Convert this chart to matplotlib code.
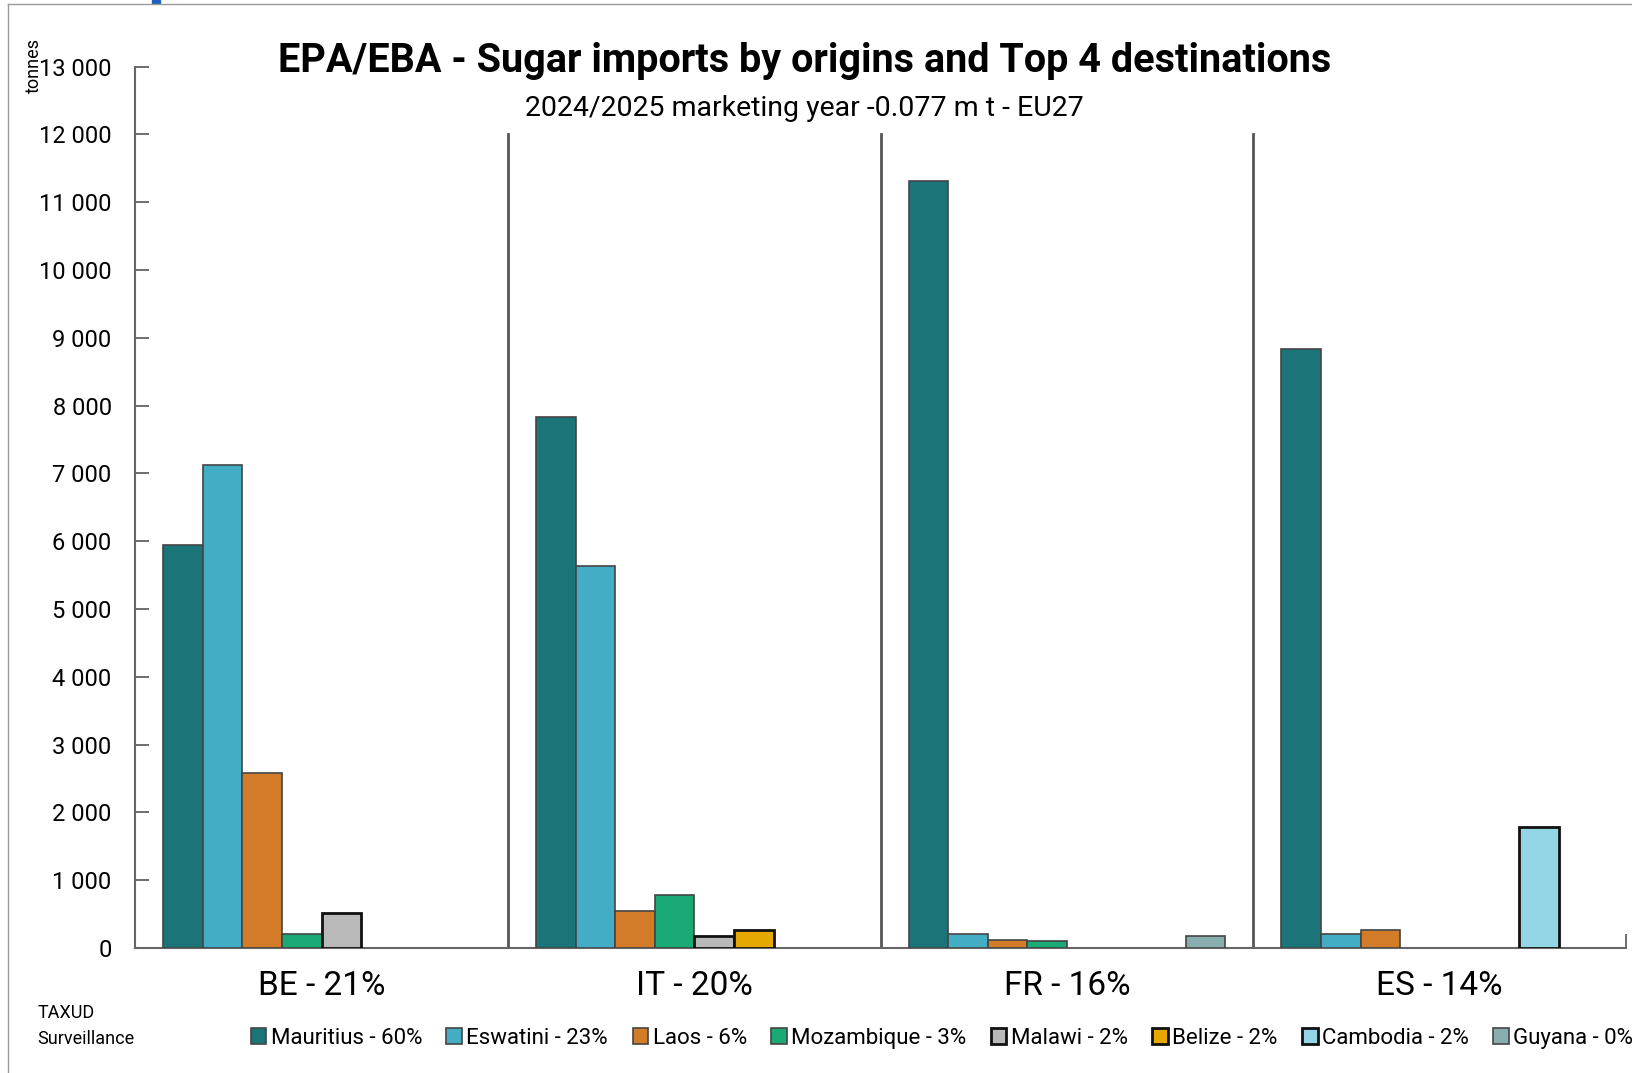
import matplotlib
matplotlib.use("Agg")
import matplotlib.pyplot as plt
import numpy as np
from matplotlib.patches import Rectangle
from matplotlib.lines import Line2D

# data
destinations = ["BE - 21%", "IT - 20%", "FR - 16%", "ES - 14%"]
origins = ["Mauritius - 60%", "Eswatini - 23%", "Laos - 6%", "Mozambique - 3%",
           "Malawi - 2%", "Belize - 2%", "Cambodia - 2%", "Guyana - 0%"]
mauritius = [5940, 7830, 11310, 8840]
eswatini = [7120, 5630, 200, 210]
laos = [2580, 550, 120, 260]
mozambique = [210, 780, 100, 0]
malawi = [520, 180, 0, 0]
belize = [0, 260, 0, 0]
cambodia = [0, 0, 0, 1780]
guyana = [0, 0, 180, 0]
series = [mauritius, eswatini, laos, mozambique, malawi, belize, cambodia, guyana]

colors = ["#1b7478", "#42adc5", "#d27b28", "#1aaa76", "#b9b9b9", "#e5a800", "#93d4e5", "#88aeb0"]
edges = ["#444444", "#444444", "#444444", "#444444", "#111111", "#111111", "#111111", "#444444"]
edge_w = [1.2, 1.2, 1.2, 1.2, 2.0, 2.0, 2.0, 1.2]

plt.rcParams['font.family'] = ["Roboto", "DejaVu Sans"]

fig = plt.figure(figsize=(16.32, 10.73), dpi=100)
ax = fig.add_axes([0.0829, 0.1165, 0.9135, 0.8215])

x = np.arange(len(destinations))
w = 0.85 / len(series)
for k, vals in enumerate(series):
    pos = x - 0.425 + (k + 0.5) * w
    v = np.array(vals, dtype=float)
    m = v > 0
    ax.bar(pos[m], v[m], width=w, color=colors[k], edgecolor=edges[k],
           linewidth=edge_w[k], label=origins[k], zorder=3)

# separators between destinations
for b in [0.5, 1.5, 2.5]:
    ax.plot([b, b], [0, 12000], color="#555555", lw=2, zorder=2)

ax.set_xlim(-0.5, 3.5)
ax.set_ylim(0, 13000)
ax.set_yticks(np.arange(0, 13001, 1000))
ax.set_yticklabels([f"{v:,}".replace(",", " ") for v in range(0, 13001, 1000)], fontsize=17)
ax.tick_params(axis="y", direction="in", length=10, width=1.2, color="#555555", pad=17)
ax.set_xticks(x)
ax.set_xticklabels(destinations, fontsize=24)
ax.tick_params(axis="x", length=0, pad=16)
ax.set_xticks([3.5], minor=True)
ax.tick_params(axis="x", which="minor", direction="in", length=10, width=1.2, color="#555555")
for s in ["top", "right"]:
    ax.spines[s].set_visible(False)
for s in ["left", "bottom"]:
    ax.spines[s].set_color("#666666")
    ax.spines[s].set_linewidth(1.5)

fig.text(0.021, 0.939, "tonnes", rotation=90, fontsize=13, ha="center", va="center")
fig.text(0.493, 0.943, "EPA/EBA - Sugar imports by origins and Top 4 destinations",
         fontsize=28.5, fontweight="bold", ha="center", va="center")
fig.text(0.493, 0.899, "2024/2025 marketing year -0.077 m t - EU27", fontsize=20.5,
         ha="center", va="center")
fig.text(0.023, 0.056, "TAXUD", fontsize=13, ha="left", va="center")
fig.text(0.023, 0.032, "Surveillance", fontsize=13, ha="left", va="center")

fig.legend(loc="center left", bbox_to_anchor=(0.1535, 0.0325), ncol=8, frameon=False,
           fontsize=16, handlelength=0.7, handleheight=0.7, handletextpad=0.2,
           columnspacing=1.1, borderaxespad=0, borderpad=0)

# outer frame
fig.add_artist(Line2D([0.005, 0.005], [0, 0.996], transform=fig.transFigure, color="#999999", lw=1))
fig.add_artist(Line2D([0.005, 1], [0.996, 0.996], transform=fig.transFigure, color="#999999", lw=1))
fig.add_artist(Rectangle((0.093, 0.997), 0.005, 0.003, transform=fig.transFigure, color="#1f5fbf"))

fig.savefig("out.png", dpi=100)
